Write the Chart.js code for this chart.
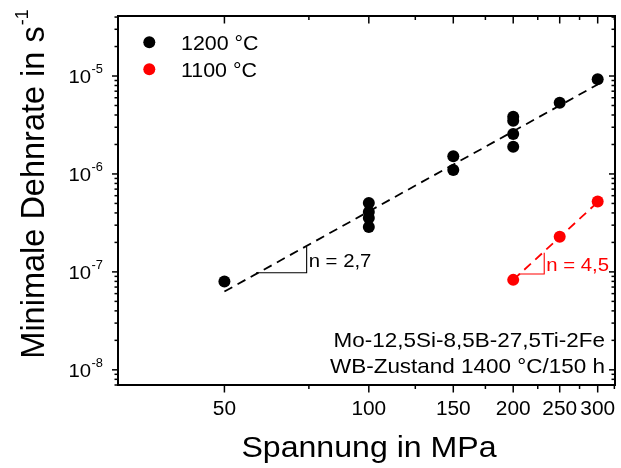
<!DOCTYPE html>
<html>
<head>
<meta charset="utf-8">
<script src="https://cdn.jsdelivr.net/npm/chart.js@4/dist/chart.umd.min.js"></script>
<style>
  html, body { margin: 0; padding: 0; background: #fff; }
  #wrap { width: 621px; height: 468px; }
</style>
</head>
<body>
<div id="wrap"><canvas id="c" width="621" height="468"></canvas></div>
<script>
// Creep data: minimum strain rate vs. applied stress
const stress1200 = [50, 100, 100, 100, 100, 150, 150, 200, 200, 200, 200, 250, 300];
const rate1200   = [7.96e-8, 5.06e-7, 4.09e-7, 3.56e-7, 2.88e-7, 1.52e-6, 1.10e-6, 3.84e-6, 3.50e-6, 2.56e-6, 1.90e-6, 5.34e-6, 9.25e-6];
const stress1100 = [200, 250, 300];
const rate1100   = [8.29e-8, 2.29e-7, 5.22e-7];

// Norton fit lines (end points)
const fitStress1200 = [50, 300];
const fitRate1200   = [6.3e-8, 8.2e-6];
const fitStress1100 = [200, 300];
const fitRate1100   = [8.29e-8, 5.15e-7];

// Slope triangles
const tri1200Stress = [58.2, 74.2, 74.2];
const tri1200Rate   = [9.8e-8, 9.8e-8, 1.81e-7];
const tri1100Stress = [205.5, 232.1, 232.1];
const tri1100Rate   = [9.5e-8, 9.5e-8, 1.57e-7];
const slopeLabels   = ['n = 2,7', 'n = 4,5'];

// Axis ticks
const xMajorTicks = [50, 100, 150, 200, 250, 300];
const xMinorTicks = [75, 125, 175, 225, 275, 325];
const yMajorExp   = [-8, -7, -6, -5];
const yMinorMult  = [2, 3, 4, 5, 6, 7, 8, 9];

const seriesLabels = ['1200 °C', '1100 °C'];
const noteLines = ['Mo-12,5Si-8,5B-27,5Ti-2Fe', 'WB-Zustand 1400 °C/150 h'];
const xTitle = 'Spannung in MPa';
const yTitle = 'Minimale Dehnrate in s';
const yTitleSup = '-1';

const RED = '#ff0000';
const FONT = '"Liberation Sans", Arial, Helvetica, sans-serif';
const SX = 1.07;

const pts = (xs, ys) => xs.map((v, i) => ({ x: v, y: ys[i] }));

function txt(ctx, s, x, y, size, align, color) {
  ctx.save();
  ctx.font = size + 'px ' + FONT;
  ctx.fillStyle = color || '#000';
  ctx.textBaseline = 'alphabetic';
  ctx.textAlign = 'left';
  const w = ctx.measureText(s).width * SX;
  const x0 = align === 'right' ? x - w : align === 'center' ? x - w / 2 : x;
  ctx.translate(x0, y);
  ctx.scale(SX, 1);
  ctx.fillText(s, 0, 0);
  ctx.restore();
  return w;
}

const decor = {
  id: 'decor',
  afterDatasetsDraw(chart) {
    const { ctx, chartArea: a, scales: { x, y } } = chart;
    ctx.save();

    // ticks
    ctx.strokeStyle = '#000';
    ctx.lineWidth = 1.5;
    const line = (x1, y1, x2, y2) => { ctx.beginPath(); ctx.moveTo(x1, y1); ctx.lineTo(x2, y2); ctx.stroke(); };
    const xTick = (v, len) => {
      const px = x.getPixelForValue(v);
      line(px, a.bottom, px, a.bottom + len);
      line(px, a.top, px, a.top + len);
    };
    const yTick = (v, len) => {
      const py = y.getPixelForValue(v);
      if (py < a.top - 0.5 || py > a.bottom + 0.5) return;
      line(a.left - len, py, a.left, py);
      line(a.right - len, py, a.right, py);
    };
    xMajorTicks.forEach(v => xTick(v, 7.5));
    xMinorTicks.forEach(v => xTick(v, 4));
    yMajorExp.forEach(e => {
      yTick(Math.pow(10, e), 6);
      yMinorMult.forEach(m => yTick(m * Math.pow(10, e), 3.5));
    });
    [-9, -4].forEach(e => yMinorMult.forEach(m => yTick(m * Math.pow(10, e), 3.5)));

    // frame
    ctx.lineWidth = 2;
    ctx.strokeRect(a.left, a.top, a.right - a.left, a.bottom - a.top);

    // x tick labels
    xMajorTicks.forEach(v => txt(ctx, String(v), x.getPixelForValue(v), 415, 19.5, 'center'));

    // y tick labels 10^e
    yMajorExp.forEach(e => {
      const py = y.getPixelForValue(Math.pow(10, e));
      const sw = txt(ctx, String(e), 103, py - 3, 12, 'right');
      txt(ctx, '10', 103 - sw - 0.5, py + 7.2, 19, 'right');
    });

    // axis titles
    txt(ctx, xTitle, 369, 457, 30, 'center');
    ctx.save();
    ctx.font = '32.5px ' + FONT;
    const mw = ctx.measureText(yTitle).width;
    ctx.font = '18px ' + FONT;
    const sw = ctx.measureText(yTitleSup).width;
    const total = mw + 1 + sw;
    ctx.translate(44, 184 + total / 2);
    ctx.rotate(-Math.PI / 2);
    ctx.fillStyle = '#000';
    ctx.textBaseline = 'alphabetic';
    ctx.font = '32.5px ' + FONT;
    ctx.fillText(yTitle, 0, 0);
    ctx.font = '18px ' + FONT;
    ctx.fillText(yTitleSup, mw + 1, -16);
    ctx.restore();

    // legend
    const ds = chart.data.datasets;
    [0, 1].forEach(i => {
      const cy = 42.3 + i * 27;
      ctx.beginPath();
      ctx.arc(149.3, cy, 6, 0, Math.PI * 2);
      ctx.fillStyle = ds[i].backgroundColor;
      ctx.fill();
      txt(ctx, ds[i].label, 181, cy + 7.5, 20, 'left');
    });

    // slope labels next to the triangles
    const slopeText = (sx, r1, r2, label, color) => {
      const px = x.getPixelForValue(sx) + 2;
      const py = (y.getPixelForValue(r1) + y.getPixelForValue(r2)) / 2 + 7.5;
      txt(ctx, label, px, py, 19, 'left', color);
    };
    slopeText(tri1200Stress[2], tri1200Rate[1], tri1200Rate[2], slopeLabels[0], '#000');
    slopeText(tri1100Stress[2], tri1100Rate[1], tri1100Rate[2], slopeLabels[1], RED);

    // alloy / condition note
    txt(ctx, noteLines[0], 605, 347, 21, 'right');
    txt(ctx, noteLines[1], 605, 373, 21, 'right');

    ctx.restore();
  }
};

new Chart(document.getElementById('c'), {
  type: 'scatter',
  data: {
    datasets: [
      { label: seriesLabels[0], data: pts(stress1200, rate1200), backgroundColor: '#000', borderColor: '#000',
        pointRadius: 6, pointBorderWidth: 0, showLine: false },
      { label: seriesLabels[1], data: pts(stress1100, rate1100), backgroundColor: RED, borderColor: RED,
        pointRadius: 6, pointBorderWidth: 0, showLine: false },
      { label: 'fit1200', data: pts(fitStress1200, fitRate1200), showLine: true, pointRadius: 0,
        borderColor: '#000', borderWidth: 1.8, borderDash: [9, 6] },
      { label: 'fit1100', data: pts(fitStress1100, fitRate1100), showLine: true, pointRadius: 0,
        borderColor: RED, borderWidth: 1.8, borderDash: [9, 6] },
      { label: 'tri1200', data: pts(tri1200Stress, tri1200Rate), showLine: true, pointRadius: 0,
        borderColor: '#000', borderWidth: 1.1 },
      { label: 'tri1100', data: pts(tri1100Stress, tri1100Rate), showLine: true, pointRadius: 0,
        borderColor: RED, borderWidth: 1.1 }
    ]
  },
  options: {
    responsive: false,
    animation: false,
    devicePixelRatio: 1,
    layout: { padding: { top: 16, right: 2, left: 0, bottom: 0 } },
    plugins: { legend: { display: false }, tooltip: { enabled: false } },
    scales: {
      x: {
        type: 'logarithmic', min: 30, max: 326,
        ticks: { display: false }, grid: { display: false }, border: { display: false },
        afterFit: s => { s.height = 83; }
      },
      y: {
        type: 'logarithmic', min: 7.03e-9, max: 4.1e-5,
        ticks: { display: false }, grid: { display: false }, border: { display: false },
        afterFit: s => { s.width = 118; }
      }
    }
  },
  plugins: [decor]
});
</script>
</body>
</html>
